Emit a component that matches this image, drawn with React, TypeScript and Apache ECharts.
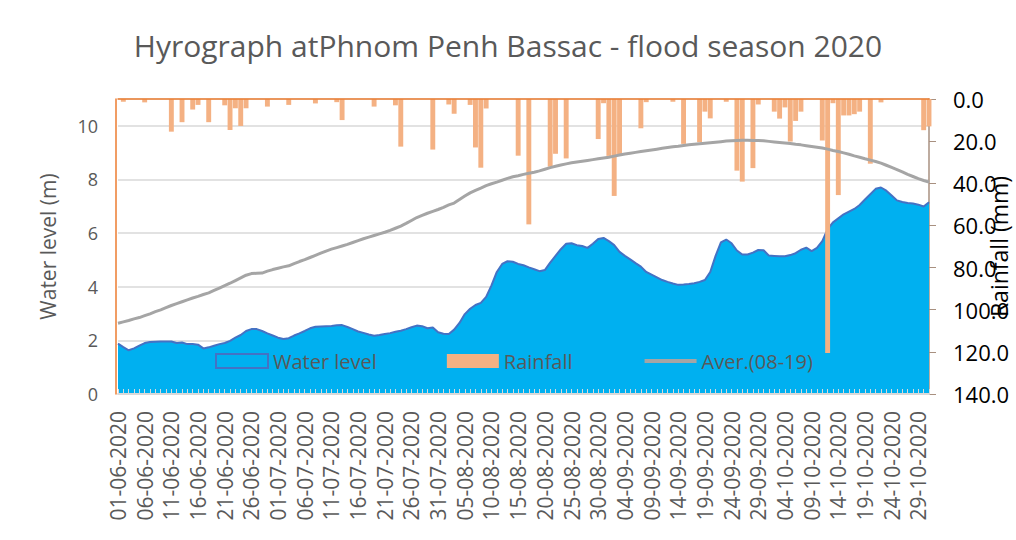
import React, { useEffect, useRef } from "react";
import * as echarts from "echarts";

const TITLE = "Hyrograph atPhnom Penh Bassac - flood season 2020";
const START_DAY = { year: 2020, month: 6, day: 1 };
const DAY_COUNT = 153;

const waterLevel = [
  1.88, 1.75, 1.63, 1.70, 1.80, 1.90, 1.94, 1.95, 1.96, 1.96,
  1.96, 1.90, 1.92, 1.86, 1.86, 1.84, 1.70, 1.74, 1.80, 1.86,
  1.90, 1.98, 2.10, 2.20, 2.35, 2.42, 2.42, 2.35, 2.26, 2.18,
  2.10, 2.05, 2.08, 2.18, 2.26, 2.35, 2.45, 2.51, 2.52, 2.53,
  2.54, 2.56, 2.57, 2.50, 2.42, 2.33, 2.28, 2.22, 2.17, 2.20,
  2.24, 2.27, 2.32, 2.36, 2.42, 2.49, 2.55, 2.53, 2.45, 2.48,
  2.30, 2.25, 2.24, 2.40, 2.65, 2.98, 3.18, 3.32, 3.40, 3.62,
  4.05, 4.55, 4.85, 4.95, 4.93, 4.85, 4.80, 4.72, 4.65, 4.58,
  4.62, 4.90, 5.15, 5.40, 5.60, 5.62, 5.55, 5.52, 5.45, 5.60,
  5.78, 5.82, 5.70, 5.55, 5.30, 5.15, 5.02, 4.88, 4.75, 4.55,
  4.45, 4.35, 4.25, 4.18, 4.12, 4.07, 4.08, 4.10, 4.13, 4.18,
  4.25, 4.55, 5.15, 5.65, 5.76, 5.62, 5.35, 5.20, 5.20, 5.27,
  5.37, 5.36, 5.16, 5.15, 5.14, 5.14, 5.18, 5.25, 5.38, 5.46,
  5.33, 5.45, 5.70, 6.15, 6.40, 6.55, 6.70, 6.80, 6.90, 7.05,
  7.25, 7.45, 7.65, 7.70, 7.58, 7.40, 7.22, 7.16, 7.12, 7.10,
  7.06, 6.99, 7.15,
];

const rainfall = [
  0, 1.3, 0, 0, 0, 1.6, 0, 0, 0, 0,
  15.5, 0, 11, 0, 5, 2.8, 0, 11, 0, 0,
  3, 14.7, 4.4, 12.8, 4.4, 0, 0, 0, 3.6, 0,
  0, 0, 2.8, 0, 0, 0, 0, 2.1, 0, 0,
  0, 1.5, 10, 0, 0, 0, 0, 0, 3.6, 0,
  0, 0, 3, 22.6, 0, 0, 0, 0, 0, 24,
  0, 0, 2.6, 7, 0, 0, 2.8, 23, 32.6, 4.5,
  0, 0, 0, 0, 0, 26.9, 0, 59.5, 0, 0,
  0, 32.1, 26, 0, 28.2, 0, 0, 0, 0, 0,
  19, 2, 27, 46, 27, 0, 0, 0, 13.9, 1.5,
  0, 0, 0, 0, 1.3, 0, 21.3, 0, 0, 20.5,
  6, 9.2, 0, 0, 1.3, 0, 34, 39.2, 0, 32.8,
  2.6, 0, 0, 6, 9.3, 4, 20.2, 10.4, 6, 0,
  0, 0, 19.7, 120.5, 2, 45.6, 7.8, 7.8, 7.2, 6,
  0, 30.7, 0, 1.6, 0, 0, 0, 0, 0, 0,
  0, 14.8, 13,
];

const average = [
  2.64, 2.69, 2.74, 2.80, 2.85, 2.92, 2.99, 3.07, 3.14, 3.22,
  3.30, 3.37, 3.44, 3.51, 3.58, 3.64, 3.71, 3.77, 3.86, 3.95,
  4.04, 4.13, 4.23, 4.33, 4.43, 4.49, 4.50, 4.51, 4.58, 4.64,
  4.69, 4.74, 4.78, 4.86, 4.94, 5.01, 5.09, 5.17, 5.25, 5.33,
  5.40, 5.46, 5.52, 5.58, 5.65, 5.72, 5.79, 5.85, 5.91, 5.97,
  6.03, 6.10, 6.18, 6.26, 6.36, 6.47, 6.58, 6.66, 6.74, 6.81,
  6.88, 6.96, 7.05, 7.12, 7.25, 7.38, 7.50, 7.59, 7.68, 7.77,
  7.84, 7.90, 7.97, 8.04, 8.10, 8.14, 8.19, 8.23, 8.27, 8.32,
  8.38, 8.44, 8.49, 8.54, 8.58, 8.62, 8.65, 8.68, 8.71, 8.74,
  8.77, 8.80, 8.83, 8.87, 8.91, 8.95, 8.98, 9.01, 9.04, 9.07,
  9.10, 9.13, 9.16, 9.19, 9.22, 9.24, 9.27, 9.29, 9.31, 9.33,
  9.35, 9.37, 9.39, 9.41, 9.43, 9.44, 9.45, 9.46, 9.46, 9.45,
  9.45, 9.44, 9.42, 9.40, 9.38, 9.36, 9.34, 9.31, 9.29, 9.26,
  9.23, 9.20, 9.17, 9.13, 9.08, 9.04, 8.99, 8.94, 8.88, 8.83,
  8.77, 8.72, 8.67, 8.61, 8.53, 8.45, 8.37, 8.28, 8.19, 8.11,
  8.03, 7.96, 7.90,
];

const levelTicks = { min: 0, max: 11, interval: 2 };
const rainTicks = { min: 0, max: 140, interval: 20 };

function buildDates(): string[] {
  const out: string[] = [];
  const t0 = Date.UTC(START_DAY.year, START_DAY.month - 1, START_DAY.day);
  for (let i = 0; i < DAY_COUNT; i++) {
    const d = new Date(t0 + i * 86400000);
    const dd = String(d.getUTCDate()).padStart(2, "0");
    const mm = String(d.getUTCMonth() + 1).padStart(2, "0");
    out.push(`${dd}-${mm}-${d.getUTCFullYear()}`);
  }
  return out;
}
const categories = buildDates();

const FONT = "'Open Sans', sans-serif";

export default function App() {
  const ref = useRef<HTMLDivElement>(null);
  useEffect(() => {
    if (!ref.current) return;
    const chart = echarts.init(ref.current, undefined, { renderer: "svg" });
    chart.setOption({
      animation: false,
      backgroundColor: "#ffffff",
      textStyle: { fontFamily: FONT },
      title: {
        text: TITLE,
        left: "center",
        top: 25,
        textStyle: { fontSize: 30, fontWeight: "normal", color: "#595959", fontFamily: FONT },
      },
      legend: {
        left: 210,
        top: 346,
        z: 6,
        itemWidth: 52,
        itemHeight: 14,
        itemGap: 70,
        textStyle: { fontSize: 20, color: "#595959", fontFamily: FONT },
        data: [
          { name: "Water level", icon: "rect", itemStyle: { color: "#00B0F0", borderColor: "#4472C4", borderWidth: 2 } },
          { name: "Rainfall", icon: "rect", itemStyle: { color: "#F4B183" } },
          { name: "Aver.(08-19)", itemStyle: { opacity: 0 }, lineStyle: { color: "#A5A5A5", width: 4 } },
        ],
      },
      grid: { left: 118, right: 87, top: 99, bottom: 146, containLabel: false, outerBoundsMode: "none" },
      xAxis: [
        {
          type: "category",
          data: categories,
          boundaryGap: false,
          z: 5,
          axisLine: { lineStyle: { color: "#D9D9D9", width: 2 } },
          axisTick: { show: true, inside: true, interval: 0, length: 5, lineStyle: { color: "#D9D9D9" } },
          axisLabel: { interval: 4, rotate: 90, fontSize: 21, color: "#595959", margin: 17, fontFamily: FONT },
          splitLine: { show: false },
        },
        {
          type: "category",
          data: categories,
          boundaryGap: false,
          position: "top",
          z: 5,
          axisLine: { lineStyle: { color: "#ED7D31", width: 1.5 } },
          axisTick: { show: false },
          axisLabel: { show: false },
          splitLine: { show: false },
        },
      ],
      yAxis: [
        {
          type: "value",
          ...levelTicks,
          offset: 2,
          name: "Water level (m)",
          nameLocation: "middle",
          nameGap: 58,
          nameMoveOverlap: false,
          nameTextStyle: { fontSize: 21, color: "#595959", fontFamily: FONT },
          axisLine: { show: true, lineStyle: { color: "#ED7D31", width: 1.5 } },
          axisTick: { show: false },
          axisLabel: { fontSize: 18, color: "#595959", margin: 18, showMaxLabel: false, fontFamily: FONT },
          splitLine: { show: true, lineStyle: { color: "#D9D9D9", width: 1.5 } },
        },
        {
          type: "value",
          ...rainTicks,
          inverse: true,
          position: "right",
          name: "Rainfall (mm)",
          nameLocation: "middle",
          nameGap: 58,
          nameMoveOverlap: false,
          nameTextStyle: { fontSize: 23, color: "#000000", fontFamily: FONT },
          axisLine: { show: true, lineStyle: { color: "#A89080", width: 1.5 } },
          axisTick: { show: true, length: 7, lineStyle: { color: "#A89080" } },
          axisLabel: { fontSize: 22, color: "#000000", margin: 24, formatter: (v: number) => v.toFixed(1), fontFamily: FONT },
          splitLine: { show: false },
        },
      ],
      series: [
        {
          name: "Water level",
          type: "line",
          xAxisIndex: 0,
          yAxisIndex: 0,
          z: 2,
          data: waterLevel,
          showSymbol: false,
          symbol: "none",
          lineStyle: { color: "#4472C4", width: 2 },
          itemStyle: { color: "#00B0F0" },
          areaStyle: { color: "#00B0F0", opacity: 1 },
        },
        {
          name: "Rainfall",
          type: "bar",
          xAxisIndex: 1,
          yAxisIndex: 1,
          z: 3,
          data: rainfall,
          barWidth: "92%",
          itemStyle: { color: "#F4B183" },
        },
        {
          name: "Aver.(08-19)",
          type: "line",
          xAxisIndex: 0,
          yAxisIndex: 0,
          z: 4,
          data: average,
          showSymbol: false,
          symbol: "none",
          lineStyle: { color: "#A5A5A5", width: 3 },
          itemStyle: { color: "#A5A5A5" },
        },
      ],
    });
    return () => chart.dispose();
  }, []);
  return (
    <div
      ref={ref}
      style={{ position: "fixed", left: 0, top: 0, width: 1016, height: 540, background: "#fff" }}
    />
  );
}
